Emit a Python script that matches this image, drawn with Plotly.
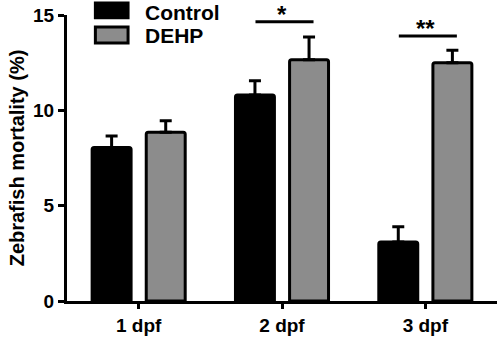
import plotly.graph_objects as go

categories = ["1 dpf", "2 dpf", "3 dpf"]
control_mean = [8.05, 10.8, 3.1]
control_err = [0.6, 0.75, 0.8]
dehp_mean = [8.85, 12.65, 12.5]
dehp_err = [0.6, 1.2, 0.65]
series_names = ["Control", "DEHP"]
sig_labels = ["*", "**"]
sig_groups = [1, 2]
sig_heights = [14.65, 13.9]

BLACK = "#000000"
GRAY = "#8c8c8c"
FONT = "Arial, Liberation Sans, sans-serif"

fig = go.Figure()
for name, mean, err, color in [
    (series_names[0], control_mean, control_err, BLACK),
    (series_names[1], dehp_mean, dehp_err, GRAY),
]:
    fig.add_trace(go.Bar(
        x=categories, y=mean, name=name,
        marker=dict(color=color, line=dict(color=BLACK, width=3), cornerradius=2),
        error_y=dict(type="data", array=err, arrayminus=[0] * len(err), symmetric=False,
                     color=BLACK, thickness=3, width=6),
        showlegend=False,
    ))

fig.update_layout(
    width=500, height=338,
    margin=dict(l=67, r=3, t=15, b=37),
    barmode="group", bargap=0.245, bargroupgap=0.28,
    plot_bgcolor="white", paper_bgcolor="white",
    font=dict(family=FONT, color=BLACK, size=18, weight="bold"),
)
fig.update_yaxes(
    range=[0, 15], tickvals=[0, 5, 10, 15], showgrid=False, zeroline=False,
    showline=True, linewidth=3, linecolor=BLACK, ticks="outside", ticklen=6,
    tickwidth=3, tickcolor=BLACK, tickfont=dict(size=19, weight="bold"),
    title=dict(text="Zebrafish mortality (%)", font=dict(size=20, weight="bold"), standoff=4),
)
fig.update_xaxes(
    range=[-0.5, 2.5], showgrid=False, showline=True, linewidth=3, linecolor=BLACK,
    ticks="outside", ticklen=5, tickwidth=3, tickcolor=BLACK,
    tickfont=dict(size=19, weight="bold"),
)

# significance bars
for lab, g, h in zip(sig_labels, sig_groups, sig_heights):
    fig.add_shape(type="line", xref="x", yref="y", x0=g - 0.185, x1=g + 0.22, y0=h, y1=h,
                  line=dict(color=BLACK, width=3))
    fig.add_annotation(x=g, y=h, xref="x", yref="y", text=lab, showarrow=False,
                       yanchor="bottom", yshift=-8, font=dict(size=24, color=BLACK))

# manual legend (paper coordinates)
leg = [(series_names[0], BLACK, 1.042, 0.99, 1.009), (series_names[1], GRAY, 0.958, 0.902, 0.928)]
for name, color, y0, y1, ty in leg:
    fig.add_shape(type="rect", xref="paper", yref="paper", x0=0.066, x1=0.142, y0=y1, y1=y0,
                  line=dict(color=BLACK, width=3), fillcolor=color)
    fig.add_annotation(x=0.178, y=ty, xref="paper", yref="paper", text=name,
                       showarrow=False, xanchor="left", yanchor="middle", borderpad=0,
                       font=dict(size=21, color=BLACK, weight="bold"))

fig.write_html("out.html")
